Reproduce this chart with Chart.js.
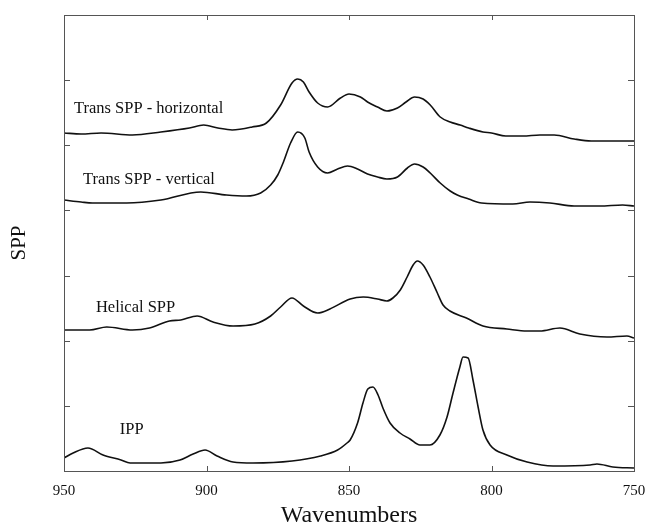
<!DOCTYPE html>
<html>
<head>
<meta charset="utf-8">
<script src="https://cdn.jsdelivr.net/npm/chart.js@4.4.0/dist/chart.umd.min.js"></script>
<style>
  html, body { margin: 0; padding: 0; background: #fff; }
  #wrap { width: 648px; height: 528px; }
</style>
</head>
<body>
<div id="wrap"><canvas id="spectra"></canvas></div>
<script>
// wavenumbers (cm-1) and stacked intensity (arbitrary, offset per trace)
const horizX = [950, 944, 937, 926, 916, 906, 901, 896, 891, 884, 879, 874, 870, 868, 866, 864, 861, 857.5, 853, 850, 846, 843.5, 840, 836.7, 833, 830, 827, 824, 821.5, 818, 814.5, 811, 808, 803, 800, 795, 789, 783, 778, 771, 765, 757, 750];
const horizY = [338, 337, 338, 336, 339, 343, 346, 343, 341, 344, 348, 366, 388, 392, 389, 379, 368, 364, 373, 377, 374, 369, 364, 360, 363, 369, 374, 372, 366, 354, 349, 346, 343, 339, 338, 335, 335, 336, 336, 332, 330, 330, 330];

const vertX = [950, 944, 940, 928, 916, 902, 893, 886, 881, 877.5, 875, 873, 870.5, 868, 865.5, 864, 861, 857.5, 854, 850.5, 847, 843.5, 840, 836.7, 833, 829.5, 827, 824, 821.5, 818, 814.5, 812, 808, 803.5, 792.5, 786.5, 779.5, 771, 762, 754, 750];
const vertY = [271, 269, 268, 268, 271, 279, 276, 275, 278, 286, 296, 309, 328, 339, 333, 319, 304, 298, 302, 305, 302, 297, 294, 292, 294, 303, 307, 304, 298, 288, 280, 276, 272, 268, 267, 269, 268, 265, 265, 266, 265];

const helicalX = [950, 941, 935, 926, 920, 913, 909, 903.3, 897.7, 890.7, 883, 877.5, 874, 870, 866, 861, 856.7, 849.6, 845, 840, 836.7, 834.6, 832, 829.6, 827.5, 826, 824, 821.6, 819, 817, 814.6, 808.8, 803, 794.6, 787.5, 783, 776, 769, 759.5, 752.5, 750];
const helicalY = [141, 141, 144, 141, 143, 150, 151, 155, 149, 145, 147, 155, 164, 173, 165, 158, 162, 172, 174, 172, 170, 173, 181, 194, 206, 210, 206, 194, 178, 166, 160, 153, 145, 142, 140, 140, 143, 137, 134, 135, 133];

const ippX = [950, 946.8, 941.6, 936.3, 930, 926.8, 916, 909.3, 904.7, 900.5, 896.3, 890.7, 883.7, 870, 860, 854, 850.7, 849.6, 847, 845.1, 843.4, 841.6, 839.8, 838.1, 835.6, 832.1, 828.6, 825.1, 821.6, 818.1, 815.6, 813.5, 811.1, 810, 808.2, 806.5, 804.7, 803, 800.5, 794.6, 787.5, 778.4, 765.4, 763, 757.4, 750];
const ippY = [13, 18, 23, 16, 11, 8, 8, 11, 17, 21, 15, 9, 8, 10, 15, 21, 28, 31, 48, 68, 82, 84, 76, 63, 48, 38, 32, 26, 26, 36, 54, 78, 104, 114, 113, 91, 64, 41, 26, 16, 9, 5, 6, 7, 4, 3];

const xTicks = [950, 900, 850, 800, 750];

// trace names, anchored at (wavenumber, intensity) of their left baseline
const labelNames = ['Trans SPP - horizontal', 'Trans SPP - vertical', 'Helical SPP', 'IPP'];
const labelX = [946.5, 943.3, 938.8, 930.4];
const labelY = [358, 287, 159, 37];

const yMax = 456;
const serif = '"Liberation Serif", "Times New Roman", serif';

const toPoints = (xs, ys) => xs.map((x, i) => ({ x: x, y: ys[i] }));

const trace = (name, xs, ys) => ({
  label: name,
  data: toPoints(xs, ys),
  borderColor: '#111',
  borderWidth: 1.6,
  pointRadius: 0,
  fill: false,
  cubicInterpolationMode: 'monotone'
});

// box frame with inward ticks on all four sides, plus the trace names
const framePlugin = {
  id: 'frame',
  afterDatasetsDraw(chart) {
    const { ctx, chartArea: a, scales: { x, y } } = chart;
    ctx.save();
    ctx.strokeStyle = '#555';
    ctx.lineWidth = 1;
    ctx.strokeRect(a.left + 0.5, a.top + 0.5, a.right - a.left, a.bottom - a.top);
    ctx.beginPath();
    y.ticks.forEach(t => {
      if (t.value <= y.min + 1 || t.value >= y.max - 1) return;
      const py = Math.round(y.getPixelForValue(t.value)) + 0.5;
      ctx.moveTo(a.left, py); ctx.lineTo(a.left + 6, py);
      ctx.moveTo(a.right, py); ctx.lineTo(a.right - 6, py);
    });
    x.ticks.forEach(t => {
      if (t.value <= x.min || t.value >= x.max) return;
      const px = Math.round(x.getPixelForValue(t.value)) + 0.5;
      ctx.moveTo(px, a.top); ctx.lineTo(px, a.top + 5);
      ctx.moveTo(px, a.bottom); ctx.lineTo(px, a.bottom - 5);
    });
    ctx.stroke();

    ctx.fillStyle = '#111';
    ctx.font = '16.5px ' + serif;
    ctx.textBaseline = 'alphabetic';
    ctx.textAlign = 'left';
    labelNames.forEach((s, i) => {
      ctx.fillText(s, x.getPixelForValue(labelX[i]), y.getPixelForValue(labelY[i]));
    });
    ctx.restore();
  }
};

new Chart(document.getElementById('spectra'), {
  type: 'line',
  data: {
    datasets: [
      trace(labelNames[0], horizX, horizY),
      trace(labelNames[1], vertX, vertY),
      trace(labelNames[2], helicalX, helicalY),
      trace(labelNames[3], ippX, ippY)
    ]
  },
  options: {
    responsive: true,
    maintainAspectRatio: false,
    animation: false,
    layout: { padding: { top: 15, right: 14, left: 0, bottom: 0 } },
    plugins: { legend: { display: false }, tooltip: { enabled: false } },
    scales: {
      x: {
        type: 'linear',
        min: 750,
        max: 950,
        reverse: true,
        afterBuildTicks: (s) => { s.ticks = xTicks.map(v => ({ value: v })); },
        afterFit: (s) => { s.height = 57; s.paddingLeft = 0; s.paddingRight = 0; },
        grid: { display: false, drawTicks: false },
        border: { display: false },
        ticks: { color: '#111', padding: 11, font: { family: serif, size: 15 } },
        title: {
          display: true,
          text: 'Wavenumbers',
          color: '#111',
          padding: { top: 0, bottom: 0 },
          font: { family: serif, size: 24, lineHeight: 1 }
        }
      },
      y: {
        min: 0,
        max: yMax,
        afterFit: (s) => { s.width = 64; },
        grid: { display: false, drawTicks: false },
        border: { display: false },
        ticks: { display: false, stepSize: yMax / 7 },
        title: {
          display: true,
          text: 'SPP',
          color: '#111',
          padding: { top: 9, bottom: 0 },
          font: { family: serif, size: 21, lineHeight: 1 }
        }
      }
    }
  },
  plugins: [framePlugin]
});
</script>
</body>
</html>
